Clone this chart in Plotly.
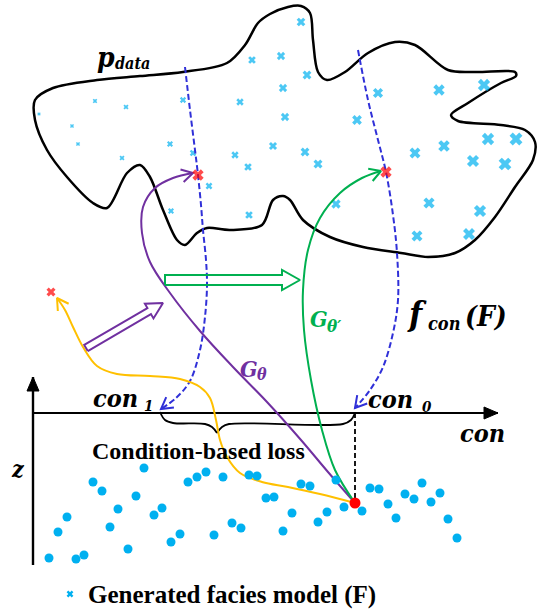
import numpy as np
import plotly.graph_objects as go

# ---------------- data (image pixel coordinates, y downward) ----------------
BLOB_X = [35, 53, 97, 140, 183, 227, 245, 258, 270, 288, 301, 310, 313, 318, 327, 345, 368, 395, 415, 448, 475, 515, 516, 501, 468, 451, 458, 501, 525, 535, 533, 515, 495, 475, 455, 428, 401, 363, 330, 303, 290, 283, 273, 262, 230, 207, 197, 185, 177, 163, 150, 140, 127, 107, 93, 67, 47, 35, 35]
BLOB_Y = [100, 88, 80, 76, 72, 63, 45, 23, 14, 7, 6, 13, 40, 72, 80, 72, 53, 42, 45, 70, 72, 72, 76, 83, 103, 115, 121, 125, 130, 142, 160, 187, 217, 240, 253, 257, 253, 247, 237, 220, 200, 196, 200, 225, 230, 228, 233, 245, 240, 210, 177, 165, 173, 208, 203, 177, 150, 120, 100]

FACIES_X = [95, 126, 39, 72, 78, 122, 170, 183, 193, 209, 171, 240, 235, 248, 249, 252,
            301, 281, 307, 283, 285, 273, 305, 318, 357, 378, 439, 484, 336, 415, 444, 488,
            516, 473, 505, 429, 480, 417, 469]
FACIES_Y = [101, 107, 114, 126, 144, 158, 144, 100, 153, 186, 211, 102, 155, 167, 215, 60,
            22, 56, 75, 88, 117, 146, 152, 164, 120, 93, 90, 85, 204, 153, 146, 139,
            139, 161, 164, 203, 211, 236, 234]

RED_X_X = [198, 386, 51]
RED_X_Y = [175, 172, 292]

Z_X = [49, 58, 67, 76, 84, 93, 102, 110, 118, 128, 136, 144, 154, 162, 171, 180, 188, 197, 206, 214, 223, 232, 241, 249, 257, 266,
       274, 292, 283, 301, 310, 336, 318, 327, 344, 362, 370, 379, 388, 396, 405, 414, 422, 431, 440, 448, 457]
Z_Y = [558, 532, 517, 559, 555, 482, 491, 527, 509, 549, 496, 468, 515, 508, 542, 534, 482, 477, 472, 535, 477, 523, 528, 475, 476, 498,
       497, 513, 531, 484, 486, 480, 522, 512, 507, 511, 488, 489, 504, 518, 494, 499, 483, 502, 493, 519, 538]

Z_TARGET = [355, 503]

DASH1_X = [185, 190, 195, 198, 201, 203, 206, 207, 205, 200, 190, 176, 161]
DASH1_Y = [67, 110, 150, 175, 205, 230, 260, 285, 317, 350, 381, 398, 409]
DASH2_X = [358, 368, 378, 386, 393, 397, 398, 393, 383, 370, 355]
DASH2_Y = [50, 100, 140, 172, 215, 253, 300, 333, 367, 390, 408]

G_X = [355, 328, 301, 267, 233, 200, 170, 150, 142, 143, 155, 173, 193]
G_Y = [503, 472, 440, 402, 367, 331, 293, 262, 233, 207, 188, 178, 173]
GP_X = [355, 335, 322, 311, 304, 303, 308, 320, 340, 362, 381]
GP_Y = [503, 470, 430, 380, 330, 290, 250, 218, 193, 178, 171]
LOSS_X = [355, 320, 288, 262, 240, 227, 220, 216, 210, 200, 180, 150, 117, 97, 83, 73, 65, 57]
LOSS_Y = [503, 494, 487, 482, 473, 457, 440, 420, 398, 387, 379, 376, 374, 366, 347, 327, 310, 298]

BRACE_L_X = [160, 165, 173, 205, 212, 217]
BRACE_L_Y = [412, 420, 423, 424, 427, 433]
BRACE_R_X = [217, 222, 229, 343, 351, 355]
BRACE_R_Y = [433, 427, 424, 424, 420, 413]

AXIS_H = [[33, 413], [498, 413]]
AXIS_V = [[33, 565], [33, 377]]

PURPLE_BLOCK = [[86, 348], [163, 303]]
GREEN_BLOCK = [[165, 280], [300, 280]]

BLUE = "#00B0F0"
DBLUE = "#3030D8"
PURPLE = "#7030A0"
GREEN = "#00B050"
ORANGE = "#FFC000"
RED = "#FF0000"

fig = go.Figure()


def line(x, y, color, width, dash=None, shape="spline", smoothing=1.0):
    fig.add_trace(go.Scatter(x=x, y=y, mode="lines",
                             line=dict(color=color, width=width, dash=dash,
                                       shape=shape, smoothing=smoothing if shape == "spline" else None),
                             hoverinfo="skip"))


def open_head(x, y, color, width, L=13, ang=30):
    tip = np.array([x[-1], y[-1]], float)
    prev = np.array([x[-2], y[-2]], float)
    d = tip - prev
    d /= np.linalg.norm(d)
    pts = []
    for a in (ang, -ang):
        r = np.radians(a)
        R = np.array([[np.cos(r), -np.sin(r)], [np.sin(r), np.cos(r)]])
        pts.append(tip - L * R.dot(d))
    line([pts[0][0], tip[0], pts[1][0]], [pts[0][1], tip[1], pts[1][1]], color, width, shape="linear")


def block_arrow(tail, tip, sw, hw, hl, color, width):
    tail = np.array(tail, float)
    tip = np.array(tip, float)
    d = tip - tail
    d /= np.linalg.norm(d)
    n = np.array([-d[1], d[0]])
    base = tip - hl * d
    P = [tail + sw * n, base + sw * n, base + hw * n, tip, base - hw * n, base - sw * n, tail - sw * n, tail + sw * n]
    line([p[0] for p in P], [p[1] for p in P], color, width, shape="linear")


def filled_tri(tip, prev, L, hw):
    tip = np.array(tip, float)
    prev = np.array(prev, float)
    d = tip - prev
    d /= np.linalg.norm(d)
    n = np.array([-d[1], d[0]])
    b = tip - L * d
    P = [b + hw * n, tip, b - hw * n, b + hw * n]
    fig.add_trace(go.Scatter(x=[p[0] for p in P], y=[p[1] for p in P], mode="lines",
                             fill="toself", fillcolor="black", line=dict(color="black", width=1),
                             hoverinfo="skip"))


# blob outline
line(BLOB_X, BLOB_Y, "black", 2.5, smoothing=0.9)

# facies x markers inside blob
sizes = [3 + 8.5 * (xx - 35) / (520 - 35) for xx in FACIES_X]
fig.add_trace(go.Scatter(x=FACIES_X, y=FACIES_Y, mode="markers",
                         marker=dict(symbol="x", size=sizes, color=BLUE, line=dict(width=0)),
                         hoverinfo="skip"))

# dashed blue lines
line(DASH1_X, DASH1_Y, DBLUE, 2, dash="6px,3px")
open_head(DASH1_X, DASH1_Y, DBLUE, 2)
line(DASH2_X, DASH2_Y, DBLUE, 2, dash="6px,3px")
open_head(DASH2_X, DASH2_Y, DBLUE, 2)

# axes
line([p[0] for p in AXIS_H], [p[1] for p in AXIS_H], "black", 2.2, shape="linear")
filled_tri([498, 413], [480, 413], 14, 6)
line([p[0] for p in AXIS_V], [p[1] for p in AXIS_V], "black", 2.4, shape="linear")
filled_tri([33, 377], [33, 395], 14, 6)

# brace
line(BRACE_L_X, BRACE_L_Y, "black", 1.8)
line(BRACE_R_X, BRACE_R_Y, "black", 1.8)

# vertical dashed to target
line([Z_TARGET[0], Z_TARGET[0]], [413, Z_TARGET[1]], "black", 1.8, dash="5px,3px", shape="linear")

# curves
line(LOSS_X, LOSS_Y, ORANGE, 2)
open_head(LOSS_X, LOSS_Y, ORANGE, 2)
line(G_X, G_Y, PURPLE, 2)
open_head(G_X, G_Y, PURPLE, 2)
line(GP_X, GP_Y, GREEN, 2)
open_head(GP_X, GP_Y, GREEN, 2)

# block arrows
block_arrow(PURPLE_BLOCK[0], PURPLE_BLOCK[1], 3.5, 8.5, 16, PURPLE, 2)
block_arrow(GREEN_BLOCK[0], GREEN_BLOCK[1], 5, 10, 18, GREEN, 2)

# z-space dots
fig.add_trace(go.Scatter(x=Z_X, y=Z_Y, mode="markers",
                         marker=dict(symbol="circle", size=9, color=BLUE), hoverinfo="skip"))
fig.add_trace(go.Scatter(x=[Z_TARGET[0]], y=[Z_TARGET[1]], mode="markers",
                         marker=dict(symbol="circle", size=11, color=RED), hoverinfo="skip"))

# red x markers
fig.add_trace(go.Scatter(x=RED_X_X, y=RED_X_Y, mode="markers",
                         marker=dict(symbol="x", size=[10, 10, 8], color=RED, line=dict(width=0)),
                         hoverinfo="skip"))

# legend marker
fig.add_trace(go.Scatter(x=[70], y=[594], mode="markers",
                         marker=dict(symbol="x", size=6, color=BLUE, line=dict(width=0)),
                         hoverinfo="skip"))

MATH = "DejaVu Serif Condensed, DejaVu Serif"
SERIF = "Liberation Serif"


def txt(x, y, s, size, color="black", font=MATH, bi=True):
    if bi:
        s = "<b><i>" + s + "</i></b>"
    else:
        s = "<b>" + s + "</b>"
    fig.add_annotation(x=x, y=y, text=s, showarrow=False, xanchor="left", yanchor="middle",
                       font=dict(family=font, size=size, color=color))


txt(95, 57, "p", 28)
txt(113, 63, "data", 16)
txt(91, 398, "con", 25)
txt(142, 406, "1", 15)
txt(366, 399, "con", 25)
txt(420, 407, "0", 15)
txt(458, 433, "con", 25)
txt(405, 314, "f", 34)
txt(426, 323, "con", 18)
txt(463, 316, "(F)", 28)
txt(238, 368, "G", 23, PURPLE)
txt(255, 374, "θ", 16, PURPLE)
txt(308, 318, "G", 23, GREEN)
txt(325, 326, "θ′", 17, GREEN)
txt(9, 468, "z", 23)
txt(90, 451, "Condition-based loss", 24, font=SERIF, bi=False)
txt(86, 595, "Generated facies model (F)", 25, font=SERIF, bi=False)

fig.update_layout(width=538, height=609, margin=dict(l=0, r=0, t=0, b=0),
                  paper_bgcolor="white", plot_bgcolor="white", showlegend=False,
                  xaxis=dict(range=[0, 538], visible=False, fixedrange=True),
                  yaxis=dict(range=[609, 0], visible=False, fixedrange=True))

fig.write_html("out.html", config={"displayModeBar": False},
               post_script="document.body.style.margin='0px';")
